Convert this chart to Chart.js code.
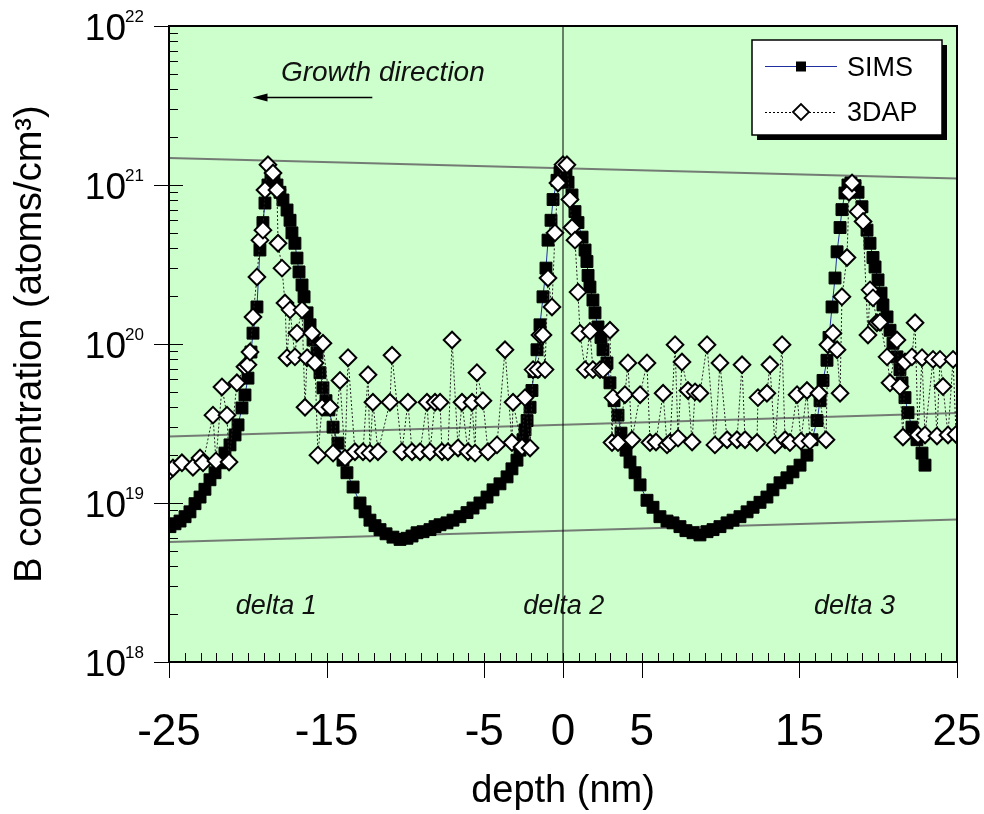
<!DOCTYPE html>
<html>
<head>
<meta charset="utf-8">
<script src="https://cdn.jsdelivr.net/npm/chart.js@4.4.0/dist/chart.umd.min.js"></script>
<style>
  html, body { margin: 0; padding: 0; background: #fff; }
</style>
</head>
<body>
<canvas id="chart" width="984" height="814"></canvas>
<script>
// SIMS profile (depth in nm, B concentration in atoms/cm3)
const simsDepth = [
  -24.94, -24.62, -24.30, -23.98, -23.67, -23.35, -23.03, -22.72, -22.40, -22.08,
  -21.76, -21.45, -21.13, -20.81, -20.62, -20.37, -20.18, -19.99, -19.80, -19.67,
  -19.42, -19.23, -19.04, -18.91, -18.72, -18.53, -18.34, -18.15, -17.96, -17.77,
  -17.51, -17.32, -17.20, -17.01, -16.88, -16.75, -16.56, -16.43, -16.24, -16.05,
  -15.86, -15.61, -15.42, -15.23, -15.04, -14.85, -14.59, -14.28, -13.96, -13.71,
  -13.32, -12.88, -12.56, -12.25, -11.93, -11.61, -11.23, -10.79, -10.34, -9.90,
  -9.58, -9.26, -8.88, -8.44, -8.12, -7.80, -7.36, -6.98, -6.54, -6.09,
  -5.71, -5.27, -4.82, -4.44, -4.00, -3.55, -3.24, -2.92, -2.73, -2.54,
  -2.41, -2.28, -2.09, -1.97, -1.84, -1.65, -1.46, -1.27, -1.08, -0.95,
  -0.76, -0.63, -0.38, -0.19, 0.00, 0.19, 0.32, 0.57, 0.76, 0.95,
  1.21, 1.40, 1.52, 1.59, 1.71, 1.90, 2.03, 2.22, 2.41, 2.54,
  2.79, 2.98, 3.24, 3.49, 3.68, 4.00, 4.25, 4.57, 4.89, 5.33,
  5.71, 6.15, 6.60, 6.98, 7.42, 7.80, 8.25, 8.69, 9.14, 9.52,
  9.96, 10.41, 10.79, 11.23, 11.68, 12.06, 12.50, 12.94, 13.32, 13.77,
  14.21, 14.59, 15.04, 15.48, 15.80, 16.12, 16.31, 16.50, 16.75, 16.88,
  17.07, 17.26, 17.39, 17.58, 17.70, 17.89, 18.08, 18.27, 18.53, 18.72,
  18.97, 19.29, 19.48, 19.67, 19.80, 19.99, 20.18, 20.30, 20.56, 20.75,
  20.94, 21.19, 21.38, 21.51, 21.70, 21.89, 22.14, 22.46, 22.78, 22.97
];
const simsConc = [
  7.1e18, 7.4e18, 7.7e18, 8.2e18, 8.8e18, 9.9e18, 1.09e19, 1.22e19, 1.40e19, 1.55e19,
  1.79e19, 2.06e19, 2.32e19, 2.68e19, 3.1e19, 3.96e19, 4.78e19, 6.1e19, 8.9e19, 1.17e20,
  1.71e20, 3.9e20, 5.8e20, 7.7e20, 1.0e21, 1.16e21, 1.11e21, 1.0e21, 9.0e20, 8.05e20,
  6.96e20, 6.0e20, 5.0e20, 4.3e20, 3.47e20, 2.84e20, 2.35e20, 1.98e20, 1.57e20, 1.32e20,
  1.06e20, 8.8e19, 6.6e19, 5.3e19, 4.4e19, 3.85e19, 3.0e19, 2.38e19, 1.86e19, 1.55e19,
  1.26e19, 1.0e19, 8.8e18, 7.8e18, 7.2e18, 6.8e18, 6.4e18, 6.1e18, 5.9e18, 6.0e18,
  6.2e18, 6.5e18, 6.6e18, 6.8e18, 7.1e18, 7.3e18, 7.5e18, 7.8e18, 8.2e18, 8.7e18,
  9.3e18, 1.0e19, 1.09e19, 1.21e19, 1.32e19, 1.46e19, 1.64e19, 1.86e19, 2.15e19, 2.5e19,
  2.88e19, 3.3e19, 4.0e19, 5.1e19, 6.7e19, 9.2e19, 1.32e20, 1.98e20, 3.0e20, 4.5e20,
  6.0e20, 8.1e20, 1.07e21, 1.2e21, 1.24e21, 1.16e21, 1.04e21, 8.65e20, 6.8e20, 5.8e20,
  4.7e20, 3.9e20, 3.3e20, 2.7e20, 2.28e20, 1.89e20, 1.57e20, 1.28e20, 1.1e20, 9.2e19,
  7.6e19, 5.7e19, 4.4e19, 3.57e19, 2.75e19, 2.15e19, 1.81e19, 1.55e19, 1.3e19, 1.04e19,
  9.4e18, 8.2e18, 7.7e18, 7.5e18, 7.1e18, 6.7e18, 6.5e18, 6.3e18, 6.6e18, 6.8e18,
  7.1e18, 7.5e18, 7.8e18, 8.2e18, 8.8e18, 9.4e18, 1.01e19, 1.09e19, 1.21e19, 1.34e19,
  1.44e19, 1.57e19, 1.73e19, 2.0e19, 2.5e19, 3.3e19, 4.4e19, 5.9e19, 7.9e19, 1.1e20,
  1.71e20, 2.6e20, 3.8e20, 5.4e20, 7.0e20, 8.9e20, 1.0e21, 1.03e21, 9.9e20, 9.0e20,
  7.3e20, 5.2e20, 4.3e20, 3.5e20, 3.05e20, 2.53e20, 2.09e20, 1.76e20, 1.48e20, 1.22e20,
  1.01e20, 8.3e19, 6.9e19, 5.7e19, 4.6e19, 3.7e19, 3.0e19, 2.5e19, 2.06e19, 1.73e19
];

// 3DAP profile
const apDepth = [
  -25.0, -24.75, -24.18, -23.48, -23.03, -22.84, -22.21, -22.02, -21.64, -21.32,
  -21.19, -20.69, -20.18, -19.99, -19.86, -19.67, -19.42, -19.23, -19.04, -18.91,
  -18.72, -18.40, -18.15, -18.08, -17.83, -17.64, -17.51, -17.32, -17.01, -16.88,
  -16.56, -16.37, -16.24, -15.93, -15.74, -15.55, -15.29, -15.23, -14.78, -14.59,
  -14.15, -13.83, -13.64, -13.20, -12.69, -12.37, -12.25, -12.06, -11.74, -10.98,
  -10.85, -10.22, -9.84, -9.58, -9.07, -8.63, -8.44, -8.12, -7.80, -7.68,
  -7.30, -7.04, -6.66, -6.41, -6.03, -5.77, -5.58, -5.46, -5.08, -4.76,
  -4.19, -3.68, -3.24, -3.17, -2.60, -2.41, -2.09, -1.90, -1.59, -1.46,
  -1.27, -1.14, -0.95, -0.70, -0.51, -0.32, 0.00, 0.25, 0.44, 0.57,
  0.76, 0.95, 1.08, 1.40, 1.71, 1.90, 2.35, 2.54, 2.98, 3.11,
  3.17, 3.49, 3.93, 4.12, 4.38, 4.89, 5.33, 5.52, 5.90, 6.35,
  6.60, 6.79, 7.11, 7.30, 7.55, 7.93, 8.19, 8.38, 8.69, 9.14,
  9.64, 9.96, 10.41, 11.04, 11.36, 11.55, 12.31, 12.37, 12.94, 13.13,
  13.45, 13.90, 14.09, 14.40, 14.85, 15.10, 15.48, 15.67, 16.24, 16.69,
  16.81, 17.13, 17.39, 17.58, 17.70, 18.02, 18.15, 18.34, 18.72, 19.04,
  19.35, 19.48, 19.67, 19.92, 20.11, 20.56, 20.75, 21.19, 21.38, 21.57,
  21.70, 22.14, 22.34, 22.53, 22.78, 22.97, 23.48, 23.73, 23.92, 24.11,
  24.43, 24.75, 24.94
];
const apConc = [
  1.57e19, 1.66e19, 1.79e19, 1.68e19, 1.92e19, 1.79e19, 3.57e19, 1.84e19, 5.37e19, 3.57e19,
  1.81e19, 5.7e19, 7.2e19, 7.4e19, 8.9e19, 1.48e20, 2.64e20, 4.5e20, 5.2e20, 9.3e20,
  1.34e21, 1.19e21, 9.3e20, 4.3e20, 3.0e20, 1.81e20, 8.2e19, 1.64e20, 8.3e19, 1.17e20,
  1.64e20, 4.0e19, 8.2e19, 1.17e20, 7.6e19, 2.0e19, 4.0e19, 1.01e20, 4.0e19, 2.06e19,
  5.9e19, 1.92e19, 8.2e19, 2.1e19, 2.1e19, 6.4e19, 2.06e19, 4.3e19, 2.1e19, 4.3e19,
  8.5e19, 2.1e19, 4.3e19, 2.1e19, 2.1e19, 4.3e19, 2.1e19, 4.3e19, 4.3e19, 2.1e19,
  2.1e19, 1.06e20, 2.22e19, 4.3e19, 2.1e19, 4.3e19, 2.06e19, 6.6e19, 4.4e19, 2.1e19,
  2.32e19, 9.2e19, 2.4e19, 4.3e19, 2.25e19, 4.6e19, 2.22e19, 6.9e19, 6.9e19, 1.14e20,
  1.14e20, 6.9e19, 2.6e20, 1.71e20, 5.0e20, 1.03e21, 1.34e21, 1.34e21, 8.1e20, 5.4e20,
  4.5e20, 2.12e20, 1.17e20, 6.9e19, 1.2e20, 6.9e19, 6.9e19, 6.9e19, 1.22e20, 2.4e19,
  4.6e19, 2.4e19, 4.8e19, 7.6e19, 2.5e19, 4.8e19, 7.6e19, 2.4e19, 2.42e19, 4.9e19,
  2.32e19, 2.4e19, 9.9e19, 2.56e19, 7.7e19, 5.1e19, 2.42e19, 5.0e19, 4.9e19, 9.9e19,
  2.32e19, 7.6e19, 2.5e19, 2.5e19, 7.4e19, 2.5e19, 2.4e19, 4.6e19, 4.9e19, 7.4e19,
  2.32e19, 9.9e19, 2.5e19, 2.4e19, 4.8e19, 2.45e19, 5.1e19, 2.45e19, 4.9e19, 2.5e19,
  9.9e19, 1.17e20, 9.2e19, 4.9e19, 1.98e20, 3.5e20, 9.0e20, 1.03e21, 6.8e20, 5.9e20,
  1.14e20, 2.19e20, 1.95e20, 1.36e20, 1.37e20, 8.3e19, 5.7e19, 1.06e20, 5.4e19, 2.6e19,
  7.7e19, 8.3e19, 1.36e20, 2.68e19, 8.2e19, 2.68e19, 8.0e19, 2.64e19, 8.0e19, 5.4e19,
  2.68e19, 8.0e19, 2.7e19
];

// straight reference lines: concentration at depth -25 and +25
const guideLeft = [1.48e21, 2.62e19, 5.69e18];
const guideRight = [1.10e21, 3.68e19, 7.88e18];

const xTickValues = [-25, -15, -5, 0, 5, 15, 25];
const yExponents = [18, 19, 20, 21, 22];

const deltaLabels = ['delta 1', 'delta 2', 'delta 3'];
const deltaDepths = [-18.2, 0.05, 18.5];
const deltaLabelConc = 2.0e18;

const FONT = '"Liberation Sans", Arial, Helvetica, sans-serif';

const plotBackground = {
  id: 'plotBackground',
  beforeDraw(chart) {
    const { ctx, chartArea: a } = chart;
    ctx.save();
    ctx.fillStyle = '#ccffcc';
    ctx.fillRect(a.left, a.top, a.width, a.height);
    ctx.restore();
  }
};

const frameAndTicks = {
  id: 'frameAndTicks',
  afterDatasetsDraw(chart) {
    const { ctx, chartArea: a, scales: { x, y } } = chart;
    ctx.save();
    ctx.strokeStyle = '#000';
    ctx.lineWidth = 1;
    ctx.beginPath();
    for (let d = -25; d <= 25; d++) {
      const px = Math.round(x.getPixelForValue(d)) + 0.5;
      ctx.moveTo(px, a.bottom);
      ctx.lineTo(px, a.bottom - 9);
    }
    xTickValues.forEach(d => {
      const px = Math.round(x.getPixelForValue(d)) + 0.5;
      ctx.moveTo(px, a.bottom);
      ctx.lineTo(px, a.bottom + 16);
    });
    yExponents.forEach((e, i) => {
      const py = Math.round(y.getPixelForValue(10 ** e)) + 0.5;
      ctx.moveTo(a.left - 15, py);
      ctx.lineTo(a.left + 14, py);
      if (i < yExponents.length - 1) {
        for (let m = 2; m <= 9; m++) {
          const pm = Math.round(y.getPixelForValue(m * 10 ** e)) + 0.5;
          ctx.moveTo(a.left, pm);
          ctx.lineTo(a.left + 9, pm);
        }
      }
    });
    ctx.stroke();
    ctx.lineWidth = 2;
    ctx.strokeRect(a.left, a.top, a.width, a.height);

    // y tick labels as 10 with a raised exponent
    ctx.fillStyle = '#000';
    ctx.textBaseline = 'alphabetic';
    yExponents.forEach(e => {
      const py = y.getPixelForValue(10 ** e);
      ctx.font = '37px ' + FONT;
      ctx.textAlign = 'right';
      ctx.fillText('10', 126, py + 14);
      ctx.font = '17px ' + FONT;
      ctx.textAlign = 'left';
      ctx.fillText(String(e), 125, py - 4);
    });
    ctx.restore();
  }
};

const annotations = {
  id: 'annotations',
  afterDatasetsDraw(chart) {
    const { ctx, scales: { x, y } } = chart;
    ctx.save();
    ctx.fillStyle = '#111';
    ctx.textBaseline = 'alphabetic';
    ctx.font = 'italic 27px ' + FONT;
    ctx.textAlign = 'center';
    deltaLabels.forEach((t, i) => {
      ctx.fillText(t, x.getPixelForValue(deltaDepths[i]), y.getPixelForValue(deltaLabelConc));
    });
    ctx.textAlign = 'left';
    ctx.font = 'italic 28px ' + FONT;
    ctx.fillText('Growth direction', x.getPixelForValue(-17.9), y.getPixelForValue(4.5e21));
    // arrow pointing towards the surface
    const ay = Math.round(y.getPixelForValue(3.57e21)) + 0.5;
    const tail = x.getPixelForValue(-12.1);
    const tip = x.getPixelForValue(-19.7);
    ctx.strokeStyle = '#000';
    ctx.fillStyle = '#000';
    ctx.lineWidth = 1.5;
    ctx.beginPath();
    ctx.moveTo(tail, ay);
    ctx.lineTo(tip + 8, ay);
    ctx.stroke();
    ctx.beginPath();
    ctx.moveTo(tip, ay);
    ctx.lineTo(tip + 15, ay - 4);
    ctx.lineTo(tip + 15, ay + 4);
    ctx.closePath();
    ctx.fill();
    ctx.restore();
  }
};

const boxLegend = {
  id: 'boxLegend',
  afterDraw(chart) {
    const { ctx, chartArea: a } = chart;
    const bx = a.right - 205, by = a.top + 14, bw = 190, bh = 95;
    ctx.save();
    ctx.fillStyle = '#000';
    ctx.fillRect(bx + 5, by + 5, bw, bh);
    ctx.fillStyle = '#fff';
    ctx.fillRect(bx, by, bw, bh);
    ctx.strokeStyle = '#000';
    ctx.lineWidth = 1.5;
    ctx.strokeRect(bx, by, bw, bh);

    const y1 = by + 26, y2 = by + 72;
    const lx0 = bx + 13, lx1 = bx + 85, mx = bx + 49;
    // SIMS entry
    ctx.strokeStyle = '#1f2f9f';
    ctx.lineWidth = 1;
    ctx.beginPath();
    ctx.moveTo(lx0, y1 + 0.5);
    ctx.lineTo(lx1, y1 + 0.5);
    ctx.stroke();
    ctx.fillStyle = '#000';
    ctx.fillRect(mx - 5, y1 - 4.5, 10, 10);
    // 3DAP entry
    ctx.strokeStyle = '#000';
    ctx.setLineDash([2, 2]);
    ctx.beginPath();
    ctx.moveTo(lx0, y2 + 0.5);
    ctx.lineTo(lx1, y2 + 0.5);
    ctx.stroke();
    ctx.setLineDash([]);
    ctx.beginPath();
    ctx.moveTo(mx - 8, y2);
    ctx.lineTo(mx, y2 - 8);
    ctx.lineTo(mx + 8, y2);
    ctx.lineTo(mx, y2 + 8);
    ctx.closePath();
    ctx.fillStyle = '#fff';
    ctx.fill();
    ctx.lineWidth = 1.8;
    ctx.stroke();

    ctx.fillStyle = '#000';
    ctx.font = '27px ' + FONT;
    ctx.textAlign = 'left';
    ctx.textBaseline = 'alphabetic';
    ctx.fillText('SIMS', bx + 95, y1 + 10);
    ctx.fillText('3DAP', bx + 95, y2 + 9);
    ctx.restore();
  }
};

const simsPoints = simsDepth.map((d, i) => ({ x: d, y: simsConc[i] }));
const apPoints = apDepth.map((d, i) => ({ x: d, y: apConc[i] }));

const guideSets = guideLeft.map((v, i) => ({
  label: 'guide' + (i + 1),
  data: [{ x: -25, y: v }, { x: 25, y: guideRight[i] }],
  showLine: true,
  borderColor: 'rgba(100, 100, 100, 0.85)',
  borderWidth: 2,
  pointRadius: 0,
  order: 3
}));

const context = document.querySelector('#chart');
const chart = new Chart(context, {
  type: 'scatter',
  data: {
    datasets: [
      {
        label: '3DAP',
        data: apPoints,
        showLine: true,
        borderColor: '#222',
        borderWidth: 1,
        borderDash: [2, 2],
        pointStyle: 'rectRot',
        pointRadius: 8.3,
        pointBorderWidth: 2,
        pointBackgroundColor: '#fff',
        pointBorderColor: '#000',
        order: 0
      },
      {
        label: 'SIMS',
        data: simsPoints,
        showLine: true,
        borderColor: '#1f2f9f',
        borderWidth: 1,
        pointStyle: 'rect',
        pointRadius: 8.4,
        pointBorderWidth: 1,
        pointBackgroundColor: '#000',
        pointBorderColor: '#000',
        order: 1
      },
      {
        label: 'depth0',
        data: [{ x: 0, y: 1e18 }, { x: 0, y: 1e22 }],
        showLine: true,
        borderColor: '#000',
        borderWidth: 1,
        pointRadius: 0,
        order: 2
      },
      ...guideSets
    ]
  },
  options: {
    responsive: false,
    animation: false,
    events: [],
    layout: { padding: { top: 26, right: 27, left: 0, bottom: 0 } },
    plugins: {
      legend: { display: false },
      tooltip: { enabled: false }
    },
    scales: {
      x: {
        type: 'linear',
        min: -25,
        max: 25,
        afterBuildTicks: axis => { axis.ticks = xTickValues.map(v => ({ value: v })); },
        afterFit: axis => {
          axis.height = 152;
          axis.paddingLeft = 0;
          axis.paddingRight = 0;
        },
        grid: { display: false, drawTicks: false },
        border: { display: false },
        ticks: {
          autoSkip: false,
          maxRotation: 0,
          padding: 44,
          color: '#000',
          font: { family: FONT, size: 44 },
          callback: v => String(v)
        },
        title: {
          display: true,
          text: 'depth (nm)',
          color: '#000',
          font: { family: FONT, size: 38 },
          padding: { top: 0, bottom: 0 }
        }
      },
      y: {
        type: 'logarithmic',
        min: 1e18,
        max: 1e22,
        afterFit: axis => {
          axis.width = 169;
          axis.paddingTop = 0;
          axis.paddingBottom = 0;
        },
        grid: { display: false, drawTicks: false },
        border: { display: false },
        ticks: { display: false },
        title: {
          display: true,
          text: 'B concentration (atoms/cm³)',
          color: '#000',
          font: { family: FONT, size: 38 },
          padding: { top: 8, bottom: 0 }
        }
      }
    }
  },
  plugins: [plotBackground, frameAndTicks, annotations, boxLegend]
});
</script>
</body>
</html>
